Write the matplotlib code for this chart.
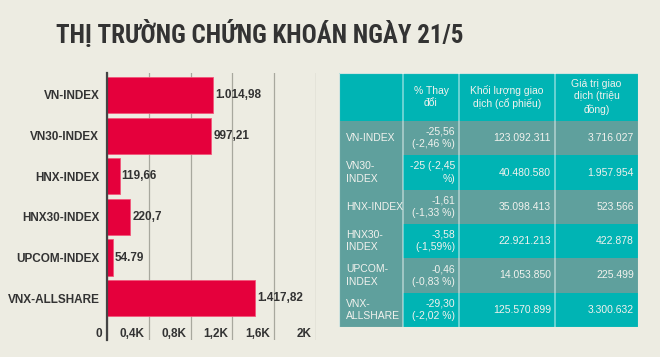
import matplotlib
matplotlib.use('Agg')
import matplotlib.pyplot as plt
from matplotlib.patches import Rectangle
from matplotlib.transforms import ScaledTranslation

# --- data ---
indices = ['VN-INDEX', 'VN30-INDEX', 'HNX-INDEX', 'HNX30-INDEX', 'UPCOM-INDEX', 'VNX-ALLSHARE']
closes = [1014.98, 997.21, 119.66, 220.7, 54.79, 1417.82]
close_labels = ['1.014,98', '997,21', '119,66', '220,7', '54.79', '1.417,82']
xticks = [0, 400, 800, 1200, 1600, 2000]
xtick_labels = ['0', '0,4K', '0,8K', '1,2K', '1,6K', '2K']

table_header = ['', '% Thay\nđổi', 'Khối lượng giao\ndịch (cổ phiếu)', 'Giá trị giao\ndịch (triệu\nđồng)']
table_names = ['VN-INDEX', 'VN30-\nINDEX', 'HNX-INDEX', 'HNX30-\nINDEX', 'UPCOM-\nINDEX', 'VNX-\nALLSHARE']
table_change = ['-25,56\n(-2,46 %)', '-25 (-2,45\n%)', '-1,61\n(-1,33 %)', '-3,58\n(-1,59%)',
                '-0,46\n(-0,83 %)', '-29,30\n(-2,02 %)']
table_volume = ['123.092.311', '40.480.580', '35.098.413', '22.921.213', '14.053.850', '125.570.899']
table_value = ['3.716.027', '1.957.954', '523.566', '422.878', '225.499', '3.300.632']

title = 'THỊ TRƯỜNG CHỨNG KHOÁN NGÀY 21/5'

# --- style ---
BG = '#EDECE2'
RED = '#E5003C'
DARK = '#333333'
TEAL = '#00B4B4'
GREYTEAL = '#5FA09D'
CELLTXT = '#F2F2EE'
FONT = ['Liberation Sans', 'DejaVu Sans']

W, H = 660, 357
fig = plt.figure(figsize=(W / 100, H / 100), dpi=100, facecolor=BG)

fig.text(260 / W, 1 - 33 / H, title, ha='center', va='center', fontsize=18,
         fontweight='bold', color=DARK,
         family=['Roboto Condensed', 'Open Sans Condensed', 'Liberation Sans'])

# --- bar chart ---
ax = fig.add_axes([107 / W, 1 - 340 / H, (316 - 107) / W, (340 - 73) / H])
ax.set_facecolor(BG)
ypos = list(range(len(indices)))
bars = ax.barh(ypos, closes, height=0.89, color=RED, edgecolor='#F2577A', linewidth=0.6, zorder=3)
ax.bar_label(bars, labels=close_labels, padding=1.5, fontsize=8.5, fontweight='bold',
             color=DARK, family=FONT)
ax.set_xlim(0, 2000)
ax.set_ylim(6.03, -0.54)
ax.set_yticks(ypos, indices)
ax.set_xticks(xticks, xtick_labels)
ax.tick_params(axis='y', length=0, pad=5.5, labelsize=8.5, labelcolor=DARK)
ax.tick_params(axis='x', length=0, pad=-8.6, labelsize=8.5, labelcolor=DARK)
shift = ScaledTranslation(-0.045, 0, fig.dpi_scale_trans)
for lab in ax.get_xticklabels():
    lab.set_ha('right')
    lab.set_transform(lab.get_transform() + shift)
for lab in ax.get_xticklabels() + ax.get_yticklabels():
    lab.set_fontweight('bold')
    lab.set_family(FONT)
ax.xaxis.grid(True, color='#A8A89E', linewidth=0.9, zorder=0)
for side in ['top', 'right', 'bottom']:
    ax.spines[side].set_visible(False)
ax.spines['left'].set_color('#444444')
ax.spines['left'].set_linewidth(1.6)
ax.spines['left'].set_zorder(4)

# --- table ---
tx0, tx1, ty0, ty1 = 339, 638, 73, 327
tab = fig.add_axes([tx0 / W, 1 - ty1 / H, (tx1 - tx0) / W, (ty1 - ty0) / H])
tab.set_xlim(0, tx1 - tx0)
tab.set_ylim(ty1 - ty0, 0)
tab.axis('off')

col_edges = [0, 64, 120, 216, 299]
header_h = 48
row_h = (ty1 - ty0 - header_h) / len(table_names)
txt_kw = dict(fontsize=7.5, color=CELLTXT, family=FONT, linespacing=1.3)

for c in range(4):
    x0, x1 = col_edges[c], col_edges[c + 1]
    tab.add_patch(Rectangle((x0, 0), x1 - x0, header_h, facecolor=TEAL, edgecolor='none'))
    tab.text((x0 + x1) / 2, header_h / 2, table_header[c], ha='center', va='center',
             multialignment='center', **txt_kw)

columns = [table_names, table_change, table_volume, table_value]
for r in range(len(table_names)):
    y0 = header_h + r * row_h
    row_col = GREYTEAL if r % 2 == 0 else TEAL
    for c in range(4):
        x0, x1 = col_edges[c], col_edges[c + 1]
        fc = GREYTEAL if c == 0 else row_col
        tab.add_patch(Rectangle((x0, y0), x1 - x0, row_h, facecolor=fc, edgecolor='none'))
        if c == 0:
            tab.text(x0 + 7, y0 + row_h / 2, columns[c][r], ha='left', va='center',
                     multialignment='left', **txt_kw)
        else:
            tab.text(x1 - 4, y0 + row_h / 2, columns[c][r], ha='right', va='center',
                     multialignment='right', **txt_kw)

for xe in col_edges[1:-1]:
    tab.axvline(xe, color='white', alpha=0.45, linewidth=1.3)
tab.add_patch(Rectangle((0, 0), col_edges[-1], ty1 - ty0, facecolor='none',
                        edgecolor='#CFE3E0', linewidth=0.8))

fig.savefig('out.png', dpi=100, facecolor=BG)
